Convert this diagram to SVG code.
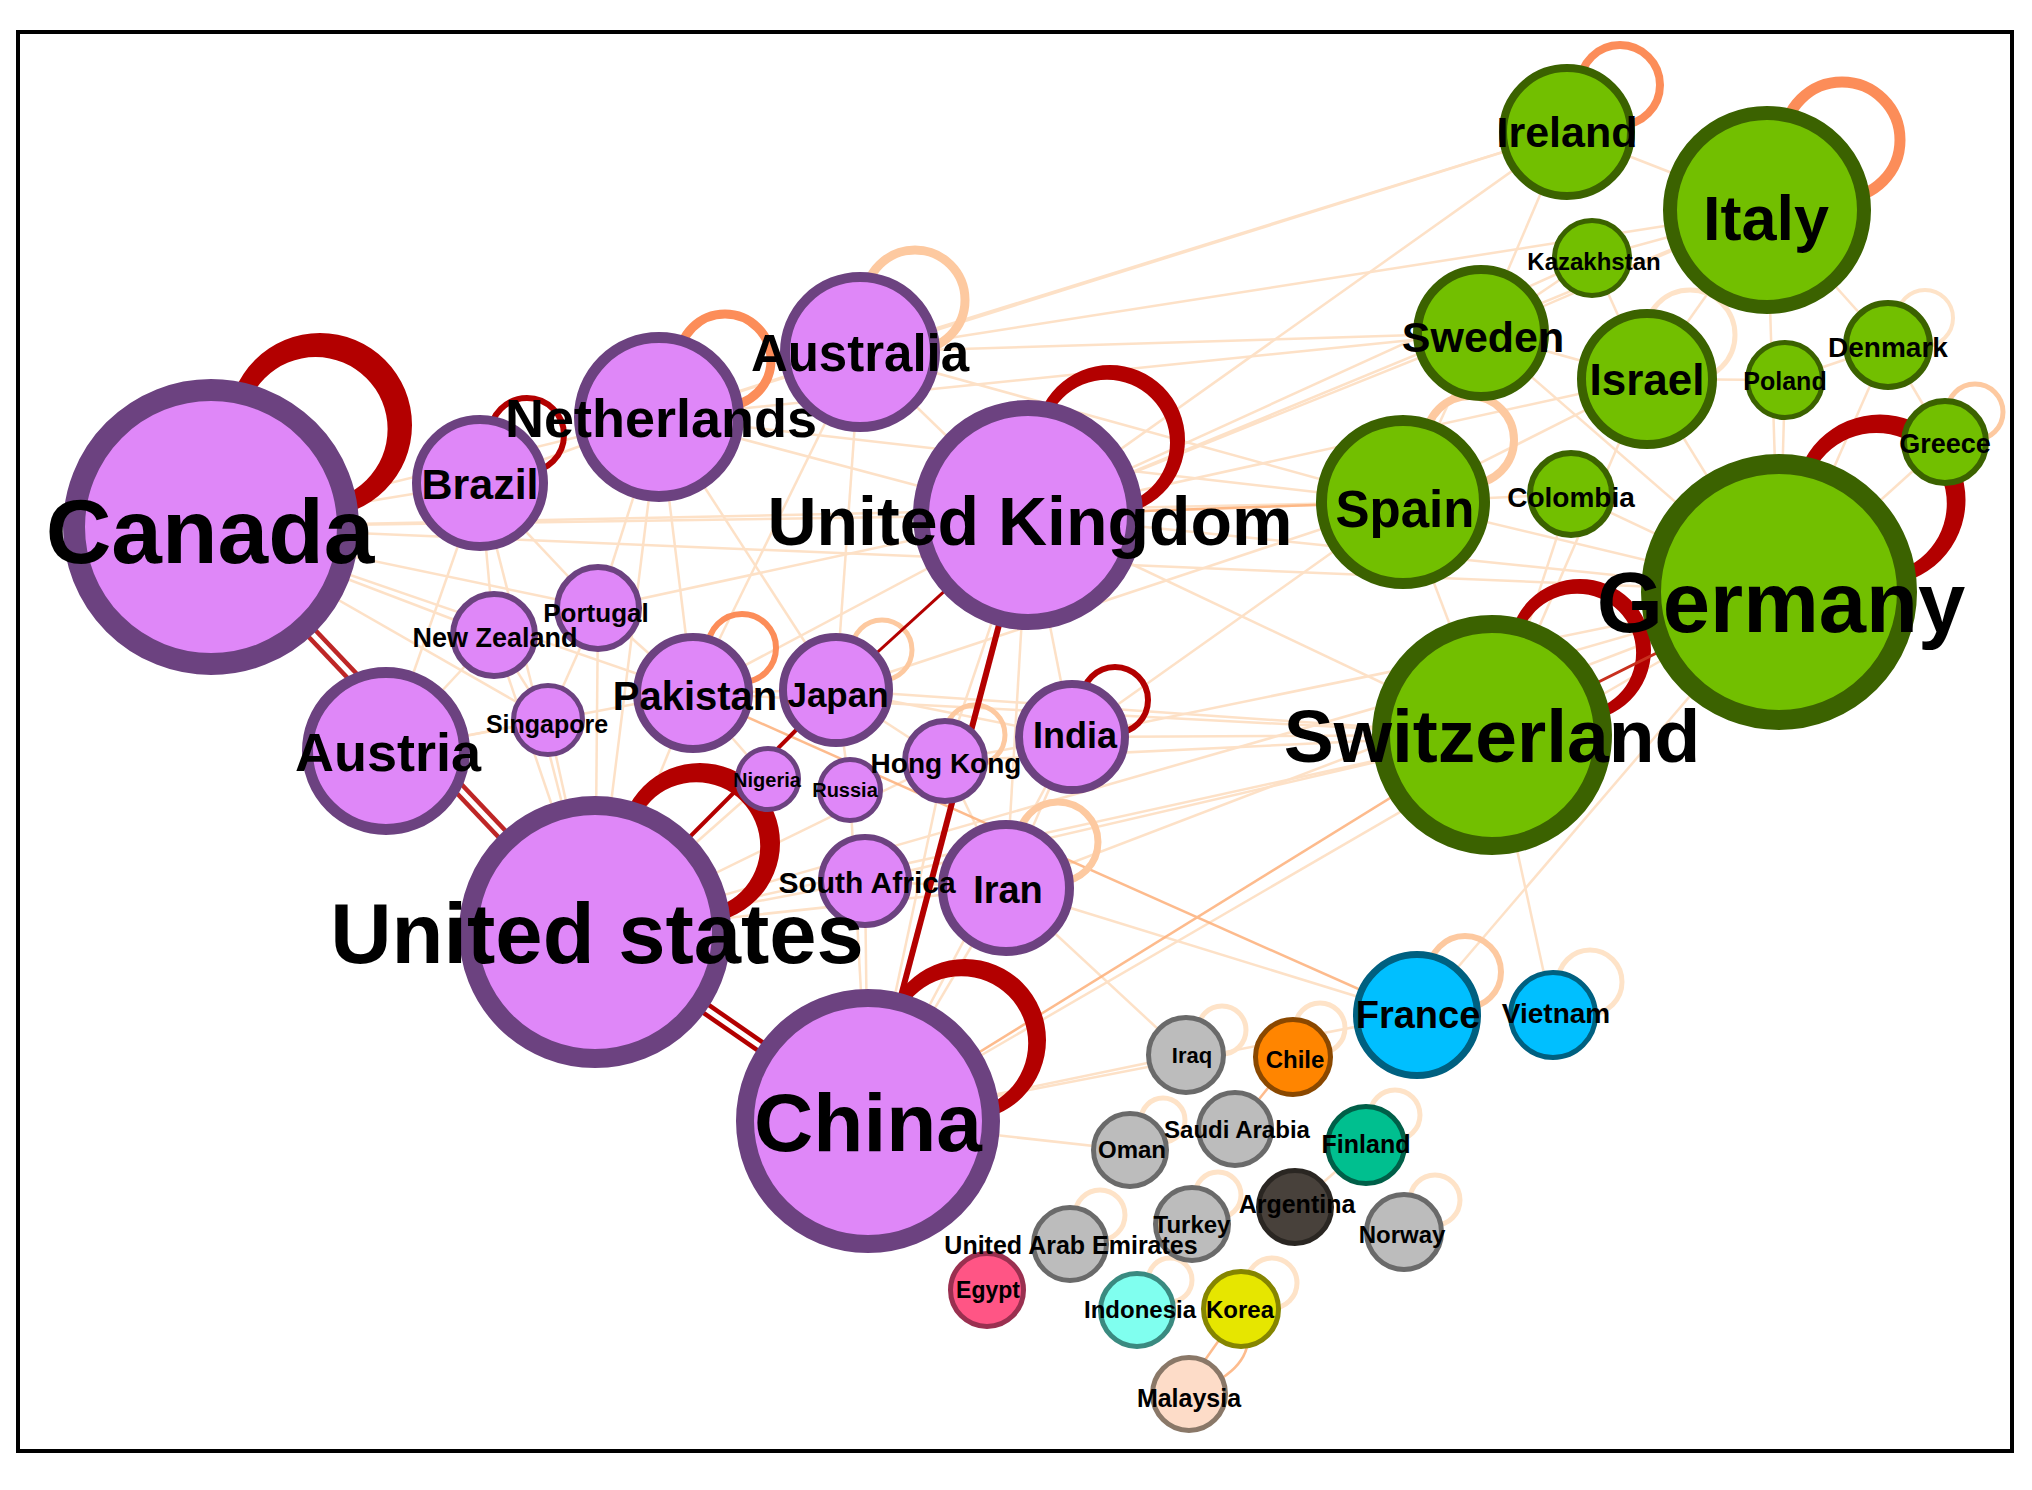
<svg xmlns="http://www.w3.org/2000/svg" width="2032" height="1490" viewBox="0 0 2032 1490">
<style>
text{font-family:"Liberation Sans",Arial,sans-serif;font-weight:bold;fill:#000;text-anchor:middle}
.p circle{fill:#df87f8;stroke:#6c4280}
.g circle{fill:#72bf00;stroke:#3b6200}
.b circle{fill:#00bfff;stroke:#006080}
.y circle{fill:#bcbcbc;stroke:#6a6a6a}
.e1{stroke:#fdd5b0;stroke-width:2.5;opacity:.7}
.e2{stroke:#fdb07a;stroke-width:2.5;opacity:.85}
.rd{stroke:#b30000;fill:none}
.rf{fill:#b30000;fill-rule:evenodd;stroke:none}
.lp{fill:none}
.lo{stroke:#fc8d59}
.ll{stroke:#fdc9a0}
.lv{stroke:#fee3c8}
</style>
<rect x="18" y="32" width="1994" height="1419" fill="#fff" stroke="#000" stroke-width="4"/>
<g id="connectors" fill="none">
<g id="faint-edges" class="e1">
<line x1="211" y1="527" x2="480" y2="483"/><line x1="211" y1="527" x2="659" y2="417"/><line x1="211" y1="527" x2="494" y2="635"/><line x1="211" y1="527" x2="598" y2="608"/><line x1="211" y1="527" x2="1028" y2="515"/><line x1="211" y1="527" x2="693" y2="693"/><line x1="211" y1="527" x2="548" y2="720"/>
<line x1="480" y1="483" x2="659" y2="417"/><line x1="480" y1="483" x2="494" y2="635"/><line x1="480" y1="483" x2="598" y2="608"/><line x1="480" y1="483" x2="386" y2="751"/><line x1="480" y1="483" x2="595" y2="932"/>
<line x1="659" y1="417" x2="860" y2="352"/><line x1="659" y1="417" x2="1028" y2="515"/><line x1="659" y1="417" x2="598" y2="608"/><line x1="659" y1="417" x2="693" y2="693"/><line x1="659" y1="417" x2="836" y2="690"/><line x1="659" y1="417" x2="595" y2="932"/>
<line x1="860" y1="352" x2="1028" y2="515"/><line x1="860" y1="352" x2="693" y2="693"/><line x1="860" y1="352" x2="836" y2="690"/>
<line x1="1028" y1="515" x2="693" y2="693"/><line x1="1028" y1="515" x2="945" y2="761"/><line x1="1028" y1="515" x2="1072" y2="737"/><line x1="1028" y1="515" x2="1006" y2="888"/><line x1="1028" y1="515" x2="598" y2="608"/>
<line x1="494" y1="635" x2="386" y2="751"/><line x1="494" y1="635" x2="548" y2="720"/><line x1="494" y1="635" x2="595" y2="932"/>
<line x1="598" y1="608" x2="548" y2="720"/><line x1="598" y1="608" x2="693" y2="693"/><line x1="598" y1="608" x2="595" y2="932"/>
<line x1="386" y1="751" x2="548" y2="720"/><line x1="386" y1="751" x2="693" y2="693"/><line x1="548" y1="720" x2="595" y2="932"/>
<line x1="693" y1="693" x2="595" y2="932"/><line x1="693" y1="693" x2="836" y2="690"/><line x1="693" y1="693" x2="768" y2="779"/>
<line x1="836" y1="690" x2="945" y2="761"/><line x1="836" y1="690" x2="1072" y2="737"/><line x1="836" y1="690" x2="850" y2="790"/>
<line x1="945" y1="761" x2="1072" y2="737"/><line x1="945" y1="761" x2="1006" y2="888"/><line x1="945" y1="761" x2="868" y2="1121"/><line x1="945" y1="761" x2="595" y2="932"/>
<line x1="1072" y1="737" x2="1006" y2="888"/><line x1="1072" y1="737" x2="868" y2="1121"/>
<line x1="865" y1="881" x2="595" y2="932"/><line x1="865" y1="881" x2="868" y2="1121"/><line x1="865" y1="881" x2="1006" y2="888"/>
<line x1="1006" y1="888" x2="868" y2="1121"/><line x1="1006" y1="888" x2="595" y2="932"/><line x1="768" y1="779" x2="595" y2="932"/><line x1="850" y1="790" x2="868" y2="1121"/>
<line x1="1028" y1="515" x2="1403" y2="502"/><line x1="1028" y1="515" x2="1481" y2="333"/><line x1="1028" y1="515" x2="1779" y2="592"/><line x1="1028" y1="515" x2="1492" y2="735"/><line x1="1028" y1="515" x2="1767" y2="210"/><line x1="1028" y1="515" x2="1567" y2="132"/><line x1="1028" y1="515" x2="1647" y2="379"/><line x1="1028" y1="515" x2="1592" y2="258"/>
<line x1="860" y1="352" x2="1567" y2="132"/><line x1="860" y1="352" x2="1481" y2="333"/><line x1="860" y1="352" x2="1767" y2="210"/><line x1="860" y1="352" x2="1403" y2="502"/>
<line x1="659" y1="417" x2="1403" y2="502"/><line x1="659" y1="417" x2="1481" y2="333"/><line x1="659" y1="417" x2="1567" y2="132"/>
<line x1="211" y1="527" x2="1403" y2="502"/><line x1="211" y1="527" x2="1779" y2="592"/>
<line x1="1006" y1="888" x2="1779" y2="592"/><line x1="1072" y1="737" x2="1492" y2="735"/><line x1="1072" y1="737" x2="1403" y2="502"/><line x1="1072" y1="737" x2="1779" y2="592"/>
<line x1="868" y1="1121" x2="1779" y2="592"/><line x1="595" y1="932" x2="1492" y2="735"/><line x1="595" y1="932" x2="1779" y2="592"/>
<line x1="1779" y1="592" x2="1417" y2="1015"/><line x1="1492" y1="735" x2="1553" y2="1015"/><line x1="1006" y1="888" x2="1417" y2="1015"/><line x1="945" y1="761" x2="1492" y2="735"/>
<line x1="836" y1="690" x2="1403" y2="502"/><line x1="836" y1="690" x2="1492" y2="735"/><line x1="868" y1="1121" x2="1417" y2="1015"/><line x1="693" y1="693" x2="1492" y2="735"/><line x1="865" y1="881" x2="1492" y2="735"/>
<line x1="868" y1="1121" x2="1186" y2="1055"/><line x1="868" y1="1121" x2="1130" y2="1150"/><line x1="1006" y1="888" x2="1186" y2="1055"/>
<line x1="1403" y1="502" x2="1779" y2="592"/><line x1="1403" y1="502" x2="1481" y2="333"/><line x1="1403" y1="502" x2="1492" y2="735"/>
<line x1="1481" y1="333" x2="1647" y2="379"/><line x1="1481" y1="333" x2="1767" y2="210"/><line x1="1647" y1="379" x2="1767" y2="210"/><line x1="1647" y1="379" x2="1779" y2="592"/><line x1="1647" y1="379" x2="1785" y2="380"/>
<line x1="1785" y1="380" x2="1888" y2="345"/><line x1="1785" y1="380" x2="1779" y2="592"/><line x1="1767" y1="210" x2="1888" y2="345"/>
<line x1="1571" y1="494" x2="1403" y2="502"/><line x1="1571" y1="494" x2="1779" y2="592"/><line x1="1592" y1="258" x2="1481" y2="333"/><line x1="1592" y1="258" x2="1767" y2="210"/>
<line x1="1567" y1="132" x2="1481" y2="333"/><line x1="1567" y1="132" x2="1767" y2="210"/><line x1="1945" y1="442" x2="1779" y2="592"/><line x1="1888" y1="345" x2="1945" y2="442"/>
<line x1="1647" y1="379" x2="1403" y2="502"/><line x1="1571" y1="494" x2="1492" y2="735"/><line x1="1481" y1="333" x2="1779" y2="592"/><line x1="1647" y1="379" x2="1492" y2="735"/><line x1="1592" y1="258" x2="1647" y2="379"/><line x1="1767" y1="210" x2="1779" y2="592"/><line x1="1888" y1="345" x2="1779" y2="592"/>
<line x1="1366" y1="1145" x2="1295" y2="1207"/>
</g>
<g id="orange-edges" class="e2">
<line x1="868" y1="1121" x2="1492" y2="735"/><line x1="693" y1="693" x2="1417" y2="1015"/><line x1="1028" y1="515" x2="1403" y2="502"/>
<line x1="1293" y1="1057" x2="1235" y2="1129"/><path d="M1241 1309 L1205 1360 M1241 1309 Q1262 1352 1222 1378"/>
</g>
<g id="self-loops" class="lp">
<path class="rf" d="M228,425 a92,92 0 1,0 184,0 a92,92 0 1,0 -184,0 Z M243.6,429.1 a72,72 0 1,0 144,0 a72,72 0 1,0 -144,0 Z"/>
<circle class="rd" cx="527" cy="435" r="37" stroke-width="6"/>
<circle class="lo" cx="725" cy="360" r="46" stroke-width="9"/>
<circle class="ll" cx="915" cy="300" r="50" stroke-width="9"/>
<path class="rf" d="M1035,440 a75,75 0 1,0 150,0 a75,75 0 1,0 -150,0 Z M1044,442.7 a63,63 0 1,0 126,0 a63,63 0 1,0 -126,0 Z"/>
<path class="rf" d="M620,843 a80,80 0 1,0 160,0 a80,80 0 1,0 -160,0 Z M632.2,846.2 a64,64 0 1,0 128,0 a64,64 0 1,0 -128,0 Z"/>
<path class="rf" d="M884,1040 a81,81 0 1,0 162,0 a81,81 0 1,0 -162,0 Z M894.2,1043.2 a67,67 0 1,0 134,0 a67,67 0 1,0 -134,0 Z"/>
<circle class="rd" cx="1115" cy="700" r="33" stroke-width="6"/>
<circle class="lo" cx="742" cy="648" r="34" stroke-width="6"/>
<circle class="ll" cx="882" cy="650" r="30" stroke-width="5"/>
<circle class="ll" cx="975" cy="735" r="30" stroke-width="5"/>
<circle class="ll" cx="1058" cy="842" r="40" stroke-width="7"/>
<circle class="lo" cx="1620" cy="85" r="40" stroke-width="8"/>
<circle class="lo" cx="1842" cy="140" r="58" stroke-width="11"/>
<circle class="ll" cx="1470" cy="440" r="44" stroke-width="8"/>
<path class="rf" d="M1794.5,500 a85.5,85.5 0 1,0 171,0 a85.5,85.5 0 1,0 -171,0 Z M1805.8,503.4 a70.5,70.5 0 1,0 141,0 a70.5,70.5 0 1,0 -141,0 Z"/>
<path class="rf" d="M1509,650 a71,71 0 1,0 142,0 a71,71 0 1,0 -142,0 Z M1518.1,652.8 a59,59 0 1,0 118,0 a59,59 0 1,0 -118,0 Z"/>
<circle class="ll" cx="1975" cy="412" r="28" stroke-width="5"/>
<circle class="lv" cx="1925" cy="318" r="28" stroke-width="4"/>
<circle class="lv" cx="1690" cy="335" r="45" stroke-width="5"/>
<circle class="ll" cx="1465" cy="972" r="36" stroke-width="6"/>
<circle class="lv" cx="1590" cy="982" r="32" stroke-width="5"/>
<circle class="lv" cx="1222" cy="1030" r="24" stroke-width="5"/>
<circle class="lv" cx="1320" cy="1028" r="25" stroke-width="5"/>
<circle class="lv" cx="1163" cy="1120" r="22" stroke-width="5"/>
<circle class="lv" cx="1218" cy="1195" r="23" stroke-width="5"/>
<circle class="lv" cx="1100" cy="1215" r="25" stroke-width="5"/>
<circle class="lv" cx="1170" cy="1280" r="22" stroke-width="5"/>
<circle class="lv" cx="1272" cy="1283" r="25" stroke-width="5"/>
<circle class="lv" cx="1395" cy="1115" r="25" stroke-width="5"/>
<circle class="lv" cx="1435" cy="1200" r="25" stroke-width="5"/>
</g>
<g id="strong-edges" class="rd">
<line x1="211" y1="527" x2="595" y2="932" stroke-width="14" opacity=".85"/>
<line x1="211" y1="527" x2="595" y2="932" stroke="#fff" stroke-width="5"/>
<line x1="595" y1="932" x2="868" y2="1121" stroke-width="14"/>
<line x1="595" y1="932" x2="868" y2="1121" stroke="#fff" stroke-width="5"/>
<line x1="1028" y1="515" x2="868" y2="1121" stroke-width="6"/>
<line x1="595" y1="932" x2="836" y2="690" stroke-width="4"/>
<line x1="1028" y1="515" x2="836" y2="690" stroke-width="3"/>
<line x1="1492" y1="735" x2="1779" y2="592" stroke-width="3" stroke="#c8301e"/>
</g>
</g>
<g id="nodes">
<g id="canada" class="p"><circle cx="211" cy="527" r="137" stroke-width="22"/><text x="210" y="563" font-size="91">Canada</text></g>
<g id="brazil" class="p"><circle cx="480" cy="483" r="63.5" stroke-width="9"/><text x="480" y="499" font-size="43">Brazil</text></g>
<g id="netherlands" class="p"><circle cx="659" cy="417" r="79.5" stroke-width="11"/><text x="661" y="437" font-size="54">Netherlands</text></g>
<g id="australia" class="p"><circle cx="860" cy="352" r="75" stroke-width="10"/><text x="860" y="371" font-size="51">Australia</text></g>
<g id="united-kingdom" class="p"><circle cx="1028" cy="515" r="107" stroke-width="16"/><text x="1030" y="545" font-size="68">United Kingdom</text></g>
<g id="portugal" class="p"><circle cx="598" cy="608" r="41" stroke-width="6"/><text x="596" y="622" font-size="26">Portugal</text></g>
<g id="new-zealand" class="p"><circle cx="494" cy="635" r="41" stroke-width="6"/><text x="495" y="647" font-size="27">New Zealand</text></g>
<g id="singapore" class="p"><circle cx="548" cy="720" r="34.5" stroke-width="5"/><text x="547" y="733" font-size="25">Singapore</text></g>
<g id="austria" class="p"><circle cx="386" cy="751" r="78.5" stroke-width="11"/><text x="388" y="771" font-size="54">Austria</text></g>
<g id="pakistan" class="p"><circle cx="693" cy="693" r="56" stroke-width="8"/><text x="695" y="710" font-size="40">Pakistan</text></g>
<g id="japan" class="p"><circle cx="836" cy="690" r="53" stroke-width="8"/><text x="838" y="707" font-size="35">Japan</text></g>
<g id="nigeria" class="p"><circle cx="768" cy="779" r="30.5" stroke-width="5"/><text x="767" y="787" font-size="20">Nigeria</text></g>
<g id="russia" class="p"><circle cx="850" cy="790" r="30.5" stroke-width="5"/><text x="845" y="797" font-size="20">Russia</text></g>
<g id="hong-kong" class="p"><circle cx="945" cy="761" r="40" stroke-width="6"/><text x="946" y="773" font-size="28">Hong Kong</text></g>
<g id="india" class="p"><circle cx="1072" cy="737" r="53" stroke-width="8"/><text x="1075" y="748" font-size="36">India</text></g>
<g id="iran" class="p"><circle cx="1006" cy="888" r="63.5" stroke-width="9"/><text x="1008" y="903" font-size="38">Iran</text></g>
<g id="south-africa" class="p"><circle cx="865" cy="881" r="44" stroke-width="6"/><text x="867" y="893" font-size="30">South Africa</text></g>
<g id="united-states" class="p"><circle cx="595" cy="932" r="126.5" stroke-width="19"/><text x="597" y="963" font-size="85">United states</text></g>
<g id="china" class="p"><circle cx="868" cy="1121" r="123" stroke-width="18"/><text x="868" y="1151" font-size="82">China</text></g>
<g id="germany" class="g"><circle cx="1779" cy="592" r="128" stroke-width="20"/><text x="1781" y="632" font-size="85">Germany</text></g>
<g id="italy" class="g"><circle cx="1767" cy="210" r="97" stroke-width="14"/><text x="1766" y="240" font-size="63">Italy</text></g>
<g id="ireland" class="g"><circle cx="1567" cy="132" r="64" stroke-width="8"/><text x="1567" y="147" font-size="43">Ireland</text></g>
<g id="kazakhstan" class="g"><circle cx="1592" cy="258" r="37.5" stroke-width="5"/><text x="1594" y="270" font-size="24">Kazakhstan</text></g>
<g id="sweden" class="g"><circle cx="1481" cy="333" r="63.5" stroke-width="9"/><text x="1483" y="352" font-size="43">Sweden</text></g>
<g id="israel" class="g"><circle cx="1647" cy="379" r="65.5" stroke-width="9"/><text x="1647" y="395" font-size="44">Israel</text></g>
<g id="poland" class="g"><circle cx="1785" cy="380" r="37.5" stroke-width="5"/><text x="1785" y="390" font-size="25">Poland</text></g>
<g id="denmark" class="g"><circle cx="1888" cy="345" r="42" stroke-width="6"/><text x="1888" y="357" font-size="28">Denmark</text></g>
<g id="greece" class="g"><circle cx="1945" cy="442" r="41" stroke-width="6"/><text x="1945" y="453" font-size="27">Greece</text></g>
<g id="spain" class="g"><circle cx="1403" cy="502" r="81.5" stroke-width="11"/><text x="1405" y="527" font-size="51">Spain</text></g>
<g id="colombia" class="g"><circle cx="1571" cy="494" r="41" stroke-width="6"/><text x="1571" y="507" font-size="28">Colombia</text></g>
<g id="switzerland" class="g"><circle cx="1492" cy="735" r="111" stroke-width="18"/><text x="1492" y="762" font-size="75">Switzerland</text></g>
<g id="france" class="b"><circle cx="1417" cy="1015" r="60.5" stroke-width="7"/><text x="1418" y="1028" font-size="38">France</text></g>
<g id="vietnam" class="b"><circle cx="1553" cy="1015" r="42.5" stroke-width="5"/><text x="1556" y="1023" font-size="28">Vietnam</text></g>
<g id="iraq" class="y"><circle cx="1186" cy="1055" r="37.5" stroke-width="5"/><text x="1192" y="1063" font-size="22">Iraq</text></g>
<g id="chile"><circle cx="1293" cy="1057" r="37.5" stroke-width="5" fill="#ff8500" stroke="#8a4800"/><text x="1295" y="1068" font-size="24">Chile</text></g>
<g id="oman" class="y"><circle cx="1130" cy="1150" r="36.5" stroke-width="5"/><text x="1132" y="1158" font-size="24">Oman</text></g>
<g id="saudi-arabia" class="y"><circle cx="1235" cy="1129" r="36.5" stroke-width="5"/><text x="1237" y="1138" font-size="24">Saudi Arabia</text></g>
<g id="finland"><circle cx="1366" cy="1145" r="38.5" stroke-width="5" fill="#00bf8f" stroke="#005f48"/><text x="1366" y="1153" font-size="25">Finland</text></g>
<g id="argentina"><circle cx="1295" cy="1207" r="36.5" stroke-width="5" fill="#48413b" stroke="#2a2622"/><text x="1297" y="1213" font-size="25">Argentina</text></g>
<g id="turkey" class="y"><circle cx="1192" cy="1224" r="36.5" stroke-width="5"/><text x="1192" y="1233" font-size="24">Turkey</text></g>
<g id="norway" class="y"><circle cx="1404" cy="1232" r="37.5" stroke-width="5"/><text x="1402" y="1243" font-size="24">Norway</text></g>
<g id="egypt"><circle cx="987" cy="1290" r="36.5" stroke-width="5" fill="#ff5585" stroke="#9a3050"/><text x="988" y="1298" font-size="23">Egypt</text></g>
<g id="united-arab-emirates" class="y"><circle cx="1070" cy="1244" r="36.5" stroke-width="5"/><text x="1071" y="1254" font-size="25">United Arab Emirates</text></g>
<g id="indonesia"><circle cx="1137" cy="1310" r="36.5" stroke-width="5" fill="#80ffef" stroke="#3a8a80"/><text x="1140" y="1318" font-size="24">Indonesia</text></g>
<g id="korea"><circle cx="1241" cy="1309" r="37.5" stroke-width="5" fill="#e6e600" stroke="#858500"/><text x="1240" y="1318" font-size="24">Korea</text></g>
<g id="malaysia"><circle cx="1189" cy="1394" r="36.5" stroke-width="5" fill="#fddcc8" stroke="#8a7868"/><text x="1189" y="1407" font-size="25">Malaysia</text></g>
</g>
</svg>
